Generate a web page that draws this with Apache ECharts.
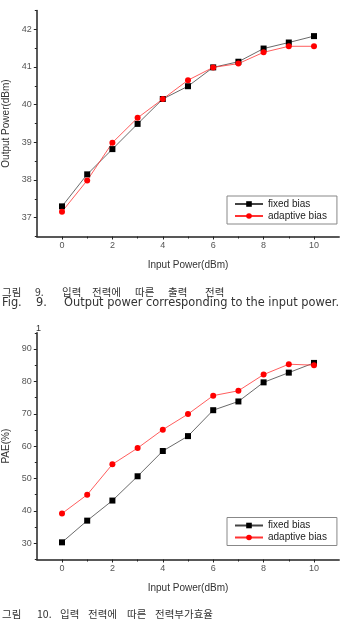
<!DOCTYPE html>
<html>
<head>
	<meta charset="utf-8">
	<title>Output power / PAE</title>
	<script src="https://cdn.jsdelivr.net/npm/echarts@6/dist/echarts.min.js"></script>
	<style>
		html, body { margin: 0; padding: 0; background: #fff; }
		#box { width: 340px; height: 622px; }
	</style>
</head>
<body>
	<div id="box"></div>
	<script type="text/javascript">
		// 입력 전력 (dBm)
		var inputPower = [0, 1, 2, 3, 4, 5, 6, 7, 8, 9, 10]
		// 그림 9 - 출력 전력 (dBm)
		var outFixed = [37.30, 38.15, 38.82, 39.49, 40.15, 40.49, 40.99, 41.14, 41.49, 41.65, 41.82]
		var outAdaptive = [37.16, 37.99, 38.99, 39.65, 40.15, 40.65, 40.99, 41.09, 41.39, 41.55, 41.55]
		// 그림 10 - PAE (%)
		var paeFixed = [30.3, 37.0, 43.2, 50.7, 58.5, 63.1, 71.1, 73.8, 79.7, 82.7, 85.7]
		var paeAdaptive = [39.2, 45.0, 54.4, 59.4, 65.1, 69.9, 75.6, 77.1, 82.1, 85.3, 85.0]
		// 눈금
		var xMajor = [0, 2, 4, 6, 8, 10]
		var xMinor = [1, 3, 5, 7, 9]
		var outMajor = [37, 38, 39, 40, 41, 42]
		var outMinor = [36.5, 37.5, 38.5, 39.5, 40.5, 41.5, 42.5]
		var paeMajor = [30, 40, 50, 60, 70, 80, 90]
		var paeMinor = [25, 35, 45, 55, 65, 75, 85, 95]

		var seriesNames = ['fixed bias', 'adaptive bias']

		// 캡션 (단어별로 배치)
		var cap9Ko = ['그림', '9.', '입력', '전력에', '따른', '출력', '전력']
		var cap9En = ['Fig.', '9.', 'Output power corresponding to the input power.']
		var cap10Ko = ['그림', '10.', '입력', '전력에', '따른', '전력부가효율']

		function pairs(ys) {
			return inputPower.map(function (x, i) { return [x, ys[i]] })
		}

		var labelColor = '#555'
		var axisColor = '#222'

		// 주 눈금 축
		function majorAxis(grid, pos, min, max, ticks, extra) {
			var a = {
				type: 'value', gridIndex: grid, position: pos, min: min, max: max,
				axisLine: { show: true, onZero: false, lineStyle: { color: axisColor, width: 1.5 } },
				axisTick: { show: true, inside: false, length: 3, customValues: ticks, lineStyle: { color: axisColor, width: 1 } },
				axisLabel: { show: true, customValues: ticks, fontSize: 9, margin: 5, color: labelColor, fontFamily: 'Liberation Sans' },
				splitLine: { show: false }
			}
			for (var k in extra) a[k] = extra[k]
			return a
		}
		// 보조 눈금 축 (짧은 눈금만)
		function minorAxis(grid, pos, min, max, ticks) {
			return {
				type: 'value', gridIndex: grid, position: pos, min: min, max: max,
				axisLine: { show: false, onZero: false },
				axisTick: { show: true, inside: false, length: 2, customValues: ticks, lineStyle: { color: axisColor, width: 1 } },
				axisLabel: { show: false },
				splitLine: { show: false }
			}
		}

		var nameStyle = { fontSize: 10, color: '#333', fontFamily: 'Liberation Sans' }

		function lineSeries(name, data, xi, yi) {
			var fixed = name === seriesNames[0]
			return {
				name: name, type: 'line', xAxisIndex: xi, yAxisIndex: yi,
				data: data,
				symbol: fixed ? 'rect' : 'circle',
				symbolSize: 6,
				itemStyle: { color: fixed ? '#000' : '#ff0000' },
				lineStyle: { color: fixed ? '#444' : '#ff3333', width: 0.8 },
				emphasis: { disabled: true },
				animation: false
			}
		}

		function legendBox(top) {
			return {
				data: seriesNames,
				orient: 'vertical',
				left: 227, top: top,
				padding: [3, 10, 3, 7],
				itemGap: 2,
				itemWidth: 28, itemHeight: 7,
				borderColor: '#888', borderWidth: 1,
				textStyle: { fontSize: 10, color: '#222', fontFamily: 'Liberation Sans' },
				selectedMode: false
			}
		}

		function words(list, xs, y, size, font) {
			return list.map(function (w, i) {
				return {
					type: 'text', x: xs[i], y: y,
					style: { text: w, fontSize: size, fill: '#333', fontFamily: font, verticalAlign: 'middle' }
				}
			})
		}

		var koFont = 'Noto Sans CJK KR'
		var enFont = 'DejaVu Sans'

		var myChart = echarts.init(document.getElementById('box'))

		var option = {
			animation: false,
			grid: [
				{ left: 36.8, width: 302.4, top: 10.5, height: 226, outerBoundsMode: 'none' },
				{ left: 36.8, width: 302.4, top: 332.8, height: 226.7, outerBoundsMode: 'none' }
			],
			xAxis: [
				majorAxis(0, 'bottom', -1, 11, xMajor, { name: 'Input Power(dBm)', nameLocation: 'middle', nameGap: 24, nameTextStyle: nameStyle }),
				minorAxis(0, 'bottom', -1, 11, xMinor),
				majorAxis(1, 'bottom', -1, 11, xMajor, { name: 'Input Power(dBm)', nameLocation: 'middle', nameGap: 24, nameTextStyle: nameStyle }),
				minorAxis(1, 'bottom', -1, 11, xMinor)
			],
			yAxis: [
				majorAxis(0, 'left', 36.5, 42.5, outMajor, { name: 'Output Power(dBm)', nameLocation: 'middle', nameGap: 16, nameTextStyle: nameStyle }),
				minorAxis(0, 'left', 36.5, 42.5, outMinor),
				majorAxis(1, 'left', 25, 95, paeMajor, { name: 'PAE(%)', nameLocation: 'middle', nameGap: 16, nameTextStyle: nameStyle }),
				minorAxis(1, 'left', 25, 95, paeMinor)
			],
			legend: [legendBox(196), legendBox(517.5)],
			series: [
				lineSeries(seriesNames[0], pairs(outFixed), 0, 0),
				lineSeries(seriesNames[1], pairs(outAdaptive), 0, 0),
				lineSeries(seriesNames[0], pairs(paeFixed), 2, 2),
				lineSeries(seriesNames[1], pairs(paeAdaptive), 2, 2)
			],
			graphic: [].concat(
				words(cap9Ko, [2, 35, 62, 92, 135, 168, 205], 292, 10.5, koFont),
				words(cap9En, [2, 36, 64], 303, 11.4, enFont),
				words(['1'], [36], 329, 9, 'Liberation Sans'),
				words(cap10Ko, [2, 37, 60, 88, 127, 155], 614, 10.5, koFont)
			)
		}

		myChart.setOption(option)
	</script>
</body>
</html>
